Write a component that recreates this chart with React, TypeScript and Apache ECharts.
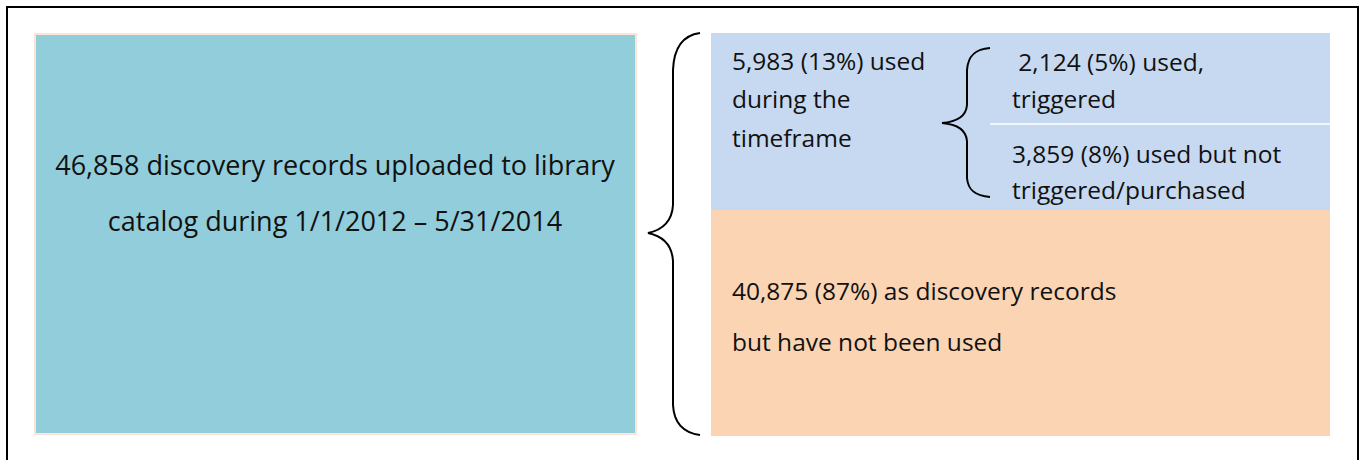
import React, { useEffect, useRef } from "react";
import * as echarts from "echarts";

// ---- Data ----
const categoryNames = ["uploaded", "used", "used, triggered", "used but not triggered/purchased", "not used"];
const categoryCounts = [46858, 5983, 2124, 3859, 40875];
const categoryShares = [100, 13, 5, 8, 87];
const periodBounds = ["1/1/2012", "5/31/2014"];

const fmt = (n: number) => n.toLocaleString("en-US");

const leftLines = [
  `${fmt(categoryCounts[0])} discovery records uploaded to library`,
  `catalog during ${periodBounds[0]} – ${periodBounds[1]}`,
];
const usedLines = [`${fmt(categoryCounts[1])} (${categoryShares[1]}%) used`, "during the", "timeframe"];
const triggeredLines = [` ${fmt(categoryCounts[2])} (${categoryShares[2]}%) used,`, "triggered"];
const notTriggeredLines = [`${fmt(categoryCounts[3])} (${categoryShares[3]}%) used but not`, "triggered/purchased"];
const unusedLines = [`${fmt(categoryCounts[4])} (${categoryShares[4]}%) as discovery records`, "but have not been used"];

const BIG_BRACE =
  "M700,33 C685,35 674,45 673,70 L673,205 C672,222 662,230 648,233 C662,236 672,244 673,261 L673,405 C674,425 685,433 700,435";
const SMALL_BRACE =
  "M990,48 C975,49 968,56 967,70 L967,105 C966,117 955,122 942,123 C955,124 966,129 967,141 L967,178 C968,190 975,196 990,197";

echarts.graphic.registerShape("bigBrace", echarts.graphic.extendPath(BIG_BRACE, {}));
echarts.graphic.registerShape("smallBrace", echarts.graphic.extendPath(SMALL_BRACE, {}));

const FONT = "Open Sans";
const INK = "#111111";

function textEl(text: string, x: number, baseline: number, size: number, align: string = "left") {
  return {
    type: "text",
    x,
    y: baseline - size * 0.36,
    style: {
      text,
      fontFamily: FONT,
      fontSize: size,
      fill: INK,
      align,
      verticalAlign: "middle",
    },
  };
}

export default function App() {
  const ref = useRef<HTMLDivElement>(null);
  useEffect(() => {
    document.body.style.margin = "0";
    const chart = echarts.init(ref.current!, null, { renderer: "svg" });
    const elements: any[] = [
      { type: "rect", shape: { x: 7, y: 7, width: 1351, height: 480 }, style: { fill: "none", stroke: "#000", lineWidth: 2 } },
      { type: "rect", shape: { x: 35, y: 34, width: 601, height: 400 }, style: { fill: "#92CDDC", stroke: "#FCE4D6", lineWidth: 2 } },
      { type: "rect", shape: { x: 711, y: 33, width: 619, height: 178 }, style: { fill: "#C6D9F1" } },
      { type: "rect", shape: { x: 711, y: 210, width: 619, height: 226 }, style: { fill: "#FBD4B4" } },
      { type: "line", shape: { x1: 990, y1: 124, x2: 1330, y2: 124 }, style: { stroke: "#FFFFFF", lineWidth: 1.5 } },
      { type: "bigBrace", x: 0, y: 0, style: { fill: "none", stroke: "#000", lineWidth: 2 } },
      { type: "smallBrace", x: 0, y: 0, style: { fill: "none", stroke: "#000", lineWidth: 2 } },
      textEl(leftLines[0], 335, 174, 27, "center"),
      textEl(leftLines[1], 335, 230, 27, "center"),
      textEl(usedLines[0], 732, 69, 24.5),
      textEl(usedLines[1], 732, 107, 24.5),
      textEl(usedLines[2], 732, 146, 24.5),
      textEl(triggeredLines[0], 1012, 70, 24.5),
      textEl(triggeredLines[1], 1012, 107, 24.5),
      textEl(notTriggeredLines[0], 1012, 162, 24.5),
      textEl(notTriggeredLines[1], 1012, 198, 24.5),
      textEl(unusedLines[0], 732, 299, 24.5),
      textEl(unusedLines[1], 732, 350, 24.5),
    ];
    chart.setOption({
      animation: false,
      backgroundColor: "#FFFFFF",
      graphic: { elements },
    });
    return () => chart.dispose();
  }, []);
  return <div ref={ref} style={{ position: "absolute", left: 0, top: 0, width: 1359, height: 460 }} />;
}
